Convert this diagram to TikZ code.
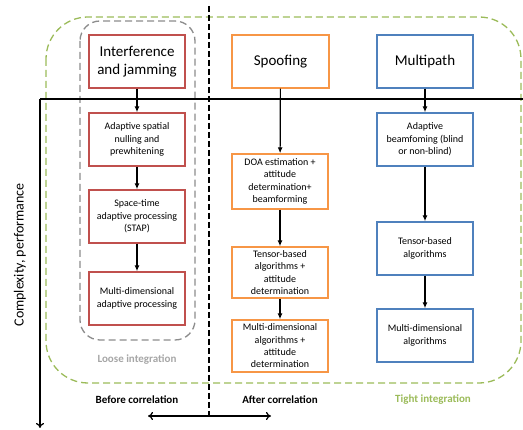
\documentclass[tikz,border=0pt]{standalone}
\usepackage{fontspec}
\setmainfont{Carlito}
\usetikzlibrary{arrows.meta}
\definecolor{cred}{HTML}{C0504D}
\definecolor{corange}{HTML}{F79646}
\definecolor{cblue}{HTML}{4F81BD}
\definecolor{cgreen}{HTML}{9BBB59}
\definecolor{cgray}{HTML}{8C8C8C}
\definecolor{clgray}{HTML}{A6A6A6}
\tikzset{
  box/.style={draw, line width=1.4pt, minimum width=96pt, align=center, inner sep=2pt},
  topbox/.style={box, minimum height=53pt, font=\fontsize{15}{18}\selectfont},
  smallbox/.style={box, font=\fontsize{10}{12.3}\selectfont},
  rbox/.style={draw=cred},
  obox/.style={draw=corange},
  bbox/.style={draw=cblue},
  flow/.style={line width=1.2pt, -{Latex[length=6pt,width=5pt]}},
  lbl/.style={font=\fontsize{11}{13}\selectfont\bfseries}
}
\begin{document}
\begin{tikzpicture}[x=1pt,y=-1pt]
\useasboundingbox (0,0) rectangle (523,430);
% green dashed region
\draw[cgreen, line width=1.3pt, dash pattern=on 7pt off 4pt, rounded corners=42pt] (46,17) rectangle (521,383);
% gray dashed region
\draw[cgray, line width=1.3pt, dash pattern=on 7pt off 4pt, rounded corners=20pt] (80,21) rectangle (195,340);
% vertical dashed separator
\coordinate (sepT) at (209,6);
\coordinate (sepB) at (209,415);
\draw[black, line width=1.3pt, dash pattern=on 6pt off 3pt] (sepT) -- (sepB);
% axes
\coordinate (axR) at (523,99);
\coordinate (axO) at (40,99);
\coordinate (axD) at (40,428);
\draw[line width=1.2pt] (axR) -- (axO);
\draw[line width=1.2pt, -{To[length=5pt,width=8pt]}] (axO) -- (axD);
\node[rotate=90, font=\fontsize{14}{16}\selectfont] (cx) at (20,255) {Complexity, performance};

% top boxes
\node[topbox, rbox, minimum width=96pt] (i0) at (137,61.5) {Interference\\and jamming};
\node[topbox, obox, minimum width=97pt] (s0) at (280.5,61.5) {Spoofing};
\node[topbox, bbox, minimum width=96pt] (m0) at (425,61.5) {Multipath};

% interference column
\node[smallbox, rbox, minimum height=53pt] (i1) at (137,139.5) {Adaptive spatial\\nulling and\\prewhitening};
\node[smallbox, rbox, minimum height=53pt] (i2) at (137,216.5) {Space-time\\adaptive processing\\(STAP)};
\node[smallbox, rbox, minimum height=53pt] (i3) at (137,298.5) {Multi-dimensional\\adaptive processing};

% spoofing column
\node[smallbox, obox, minimum width=96pt, minimum height=55pt] (s1) at (280,181.5) {DOA estimation +\\attitude\\determination+\\beamforming};
\node[smallbox, obox, minimum width=96pt, minimum height=51pt] (s2) at (280,272.5) {Tensor-based\\algorithms +\\attitude\\determination};
\node[smallbox, obox, minimum width=96pt, minimum height=52pt] (s3) at (280,346) {Multi-dimensional\\algorithms +\\attitude\\determination};

% multipath column
\node[smallbox, bbox, minimum height=53pt] (m1) at (425,139.5) {Adaptive\\beamfoming (blind\\or non-blind)};
\node[smallbox, bbox, minimum height=53pt] (m2) at (425,248.5) {Tensor-based\\algorithms};
\node[smallbox, bbox, minimum height=53pt] (m3) at (425,335.5) {Multi-dimensional\\algorithms};

% arrows
\draw[flow] (i0) -- (i1);
\draw[flow] (i1) -- (i2);
\draw[flow] (i2) -- (i3);
\draw[flow] (s0) -- (s1);
\draw[flow] (s1) -- (s2);
\draw[flow] (s2) -- (s3);
\draw[flow] (m0) -- (m1);
\draw[flow] (m1) -- (m2);
\draw[flow] (m2) -- (m3);

% labels
\node[lbl, text=clgray] (loose) at (137,360) {Loose integration};
\node[lbl] (before) at (137,400) {Before correlation};
\node[lbl] (after) at (280,400) {After correlation};
\node[lbl, text=cgreen] (tight) at (433,400) {Tight integration};
\coordinate (dl) at (148,416);
\coordinate (dr) at (271,416);
\draw[line width=1.2pt, {To[length=5pt,width=8pt]}-{To[length=5pt,width=8pt]}] (dl) -- (dr);
\end{tikzpicture}
\end{document}
